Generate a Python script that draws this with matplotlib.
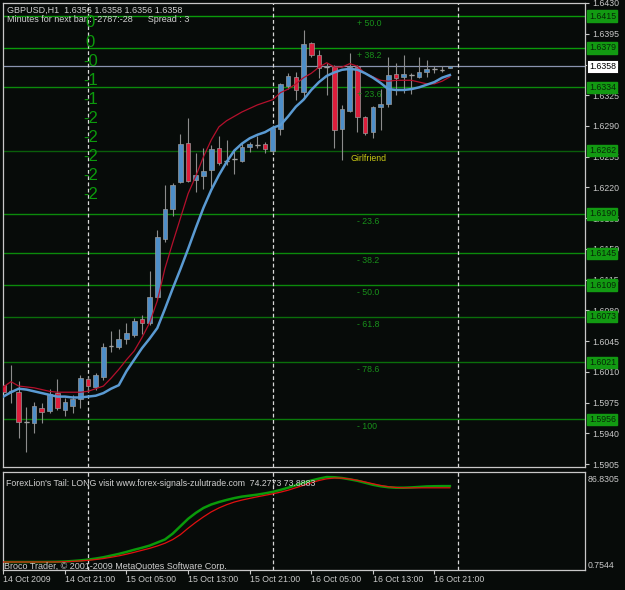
import numpy as np
import matplotlib.pyplot as plt
import matplotlib.transforms as mtransforms

# GBPUSD H1 bars, 14 Oct 13:00 .. 16 Oct 23:00
opens = [1.5995, 1.5988, 1.5987, 1.5953, 1.5952, 1.5969, 1.5966, 1.5986, 1.5967, 1.5971,
         1.5979, 1.6002, 1.5993, 1.6004, 1.6040, 1.6039, 1.6048, 1.6052, 1.6070, 1.6066,
         1.6095, 1.6161, 1.6196, 1.6226, 1.6271, 1.6229, 1.6233, 1.6240, 1.6265, 1.6250,
         1.6252, 1.6250, 1.6266, 1.6268, 1.6270, 1.6262, 1.6287, 1.6336, 1.6346, 1.6329,
         1.6384, 1.6371, 1.6357, 1.6357, 1.6287, 1.6307, 1.6357, 1.6300, 1.6283, 1.6312,
         1.6315, 1.6349, 1.6346, 1.6348, 1.6346, 1.6351, 1.6355, 1.6354, 1.6356]
highs = [1.6016, 1.6018, 1.6000, 1.5970, 1.5976, 1.5975, 1.5991, 1.6002, 1.5980, 1.5984,
         1.6007, 1.6004, 1.6009, 1.6043, 1.6057, 1.6059, 1.6066, 1.6072, 1.6075, 1.6125,
         1.6172, 1.6223, 1.6225, 1.6281, 1.6299, 1.6259, 1.6265, 1.6268, 1.6279, 1.6274,
         1.6264, 1.6271, 1.6272, 1.6279, 1.6272, 1.6291, 1.6339, 1.6350, 1.6351, 1.6399,
         1.6386, 1.6377, 1.6362, 1.6359, 1.6314, 1.6373, 1.6359, 1.6301, 1.6313, 1.6332,
         1.6369, 1.6362, 1.6371, 1.6350, 1.6369, 1.6365, 1.6358, 1.6358, 1.6358]
lows = [1.5955, 1.5975, 1.5935, 1.5919, 1.5941, 1.5952, 1.5963, 1.5967, 1.5960, 1.5963,
        1.5969, 1.5987, 1.5990, 1.6001, 1.6033, 1.6036, 1.6042, 1.6050, 1.6053, 1.6063,
        1.6092, 1.6158, 1.6188, 1.6225, 1.6226, 1.6215, 1.6218, 1.6221, 1.6246, 1.6246,
        1.6235, 1.6249, 1.6260, 1.6265, 1.6259, 1.6259, 1.6280, 1.6332, 1.6320, 1.6321,
        1.6369, 1.6345, 1.6325, 1.6265, 1.6251, 1.6306, 1.6283, 1.6280, 1.6276, 1.6285,
        1.6312, 1.6325, 1.6328, 1.6326, 1.6345, 1.6346, 1.6350, 1.6351, 1.6356]
closes = [1.5987, 1.5988, 1.5953, 1.5953, 1.5971, 1.5964, 1.5985, 1.5969, 1.5976, 1.5979,
          1.6003, 1.5994, 1.6007, 1.6039, 1.6040, 1.6048, 1.6054, 1.6068, 1.6066, 1.6095,
          1.6164, 1.6196, 1.6223, 1.6270, 1.6227, 1.6234, 1.6239, 1.6264, 1.6248, 1.6250,
          1.6252, 1.6266, 1.6270, 1.6268, 1.6264, 1.6288, 1.6338, 1.6347, 1.6331, 1.6383,
          1.6371, 1.6356, 1.6357, 1.6286, 1.6309, 1.6357, 1.6300, 1.6282, 1.6312, 1.6315,
          1.6348, 1.6345, 1.6349, 1.6348, 1.6351, 1.6355, 1.6355, 1.6354, 1.6358]

ma_fast = [1.5993, 1.5999, 1.5994, 1.5993, 1.5992, 1.5990, 1.5988, 1.5987, 1.5987, 1.5987,
           1.5987, 1.5988, 1.5991, 1.5994, 1.6003, 1.6013, 1.6024, 1.6034, 1.6049, 1.6066,
           1.6091, 1.6128, 1.6157, 1.6185, 1.6213, 1.6233, 1.6255, 1.6274, 1.6289, 1.6296,
           1.6301, 1.6306, 1.6310, 1.6314, 1.6317, 1.6320, 1.6328, 1.6332, 1.6338, 1.6345,
           1.6350, 1.6357, 1.6362, 1.6357, 1.6357, 1.6361, 1.6358, 1.6350, 1.6346, 1.6342,
           1.6341, 1.6342, 1.6342, 1.6342, 1.6340, 1.6338, 1.6338, 1.6341, 1.6346]
ma_slow = [1.5982, 1.5987, 1.5991, 1.5990, 1.5988, 1.5986, 1.5984, 1.5982, 1.5982, 1.5981,
           1.5981, 1.5982, 1.5983, 1.5986, 1.5991, 1.5995, 1.6011, 1.6024, 1.6037, 1.6048,
           1.6060, 1.6082, 1.6105, 1.6127, 1.6150, 1.6174, 1.6197, 1.6217, 1.6234, 1.6249,
           1.6262, 1.6270, 1.6276, 1.6280, 1.6283, 1.6288, 1.6291, 1.6301, 1.6312, 1.6320,
           1.6331, 1.6340, 1.6347, 1.6351, 1.6354, 1.6355, 1.6354, 1.6350, 1.6345, 1.6339,
           1.6332, 1.6331, 1.6331, 1.6332, 1.6334, 1.6337, 1.6340, 1.6345, 1.6348]

tail_green = [0.8, 0.8, 0.8, 0.8, 0.8, 0.8, 0.9, 1.0, 1.3, 1.8,
              2.4, 3.2, 4.3, 5.6, 7.3, 9.0, 11.0, 13.2, 15.2, 17.4,
              20.5, 23.6, 29.5, 37.0, 44.5, 50.5, 55.5, 59.0, 61.5, 63.6,
              65.5, 67.0, 68.0, 69.0, 70.3, 71.8, 73.8, 76.0, 78.5, 81.0,
              83.3, 85.2, 86.8, 86.6, 85.8, 84.5, 83.0, 81.0, 79.0, 77.5,
              76.5, 76.0, 76.0, 76.3, 76.8, 77.3, 77.5, 77.6, 77.6]
tail_red = [0.8, 0.8, 0.8, 0.8, 0.8, 0.8, 0.8, 0.9, 1.1, 1.4,
            1.9, 2.5, 3.3, 4.3, 5.6, 7.0, 8.7, 10.6, 12.6, 14.6,
            17.0, 19.8, 23.5, 28.5, 35.0, 41.0, 46.5, 51.5, 55.5, 58.8,
            61.5, 63.5, 65.2, 66.8, 68.3, 69.8, 71.5, 73.5, 76.0, 78.5,
            81.0, 83.3, 85.0, 85.8, 85.7, 84.8, 83.5, 81.8, 80.0, 78.3,
            77.0, 76.2, 75.9, 75.9, 75.9, 75.9, 75.9, 75.9, 75.9]

fib_levels = [1.6415, 1.6379, 1.6334, 1.6262, 1.6190, 1.6145, 1.6109, 1.6073, 1.6021, 1.5956]
fib_names = ["+ 50.0", "+ 38.2", "+ 23.6", "Girlfriend", "- 23.6", "- 38.2",
             "- 50.0", "- 61.8", "- 78.6", "- 100"]
fib_colors = ["#0a9a0a", "#0a9a0a", "#0b8a0b", "#0a5e0a", "#0b8a0b", "#0b8a0b",
              "#0b8a0b", "#0a6e0a", "#0a6e0a", "#0a7a0a"]
price_ticks = [1.6430, 1.6395, 1.6360, 1.6325, 1.6290, 1.6255, 1.6220, 1.6185, 1.6150,
               1.6115, 1.6080, 1.6045, 1.6010, 1.5975, 1.5940, 1.5905]
last_price = 1.6358
offsets = ["0", "0", "-0", "-1", "-1", "-2", "-2", "-2", "-2", "-2"]
time_ticks = [0, 8, 16, 24, 32, 40, 48, 56]
time_labels = ["14 Oct 2009", "14 Oct 21:00", "15 Oct 05:00", "15 Oct 13:00",
               "15 Oct 21:00", "16 Oct 05:00", "16 Oct 13:00", "16 Oct 21:00"]
day_breaks = [11, 35, 59]

BG = "#070b09"
TXT = "#d0d0d0"
FONT = "Liberation Sans"

fig = plt.figure(figsize=(6.25, 5.9), dpi=100, facecolor=BG)
ax = fig.add_axes([3 / 625, 123 / 590, 582 / 625, 464 / 590], facecolor=BG)
ax2 = fig.add_axes([3 / 625, 20 / 590, 582 / 625, 98 / 590], facecolor=BG)

x = np.arange(len(closes))
xlim = (-0.04, 75.55)
px = 0.0035 / 30.75

# main price panel
for lvl, c in zip(fib_levels, fib_colors):
    ax.axhline(lvl, color=c, lw=1.0, zorder=1)
ax.axhline(last_price, color="#8a94b0", lw=0.9, zorder=1)
for d in day_breaks:
    ax.axvline(d, color="#d8d8d8", lw=0.9, ls=(0, (3, 2)), zorder=1)

o = np.array(opens); c = np.array(closes)
ax.vlines(x, lows, highs, color="#8c8c8c", lw=0.8, zorder=2)
body_col = np.where(c > o, "#4e8ec8", np.where(c < o, "#dc1e3c", "#9a9a9a"))
ax.bar(x, c - o, bottom=o, width=0.6, color=body_col, edgecolor="#9a9a9a",
       linewidth=0.5, zorder=3)
flat = c == o
ax.hlines(c[flat], x[flat] - 0.3, x[flat] + 0.3, color="#a0a0a0", lw=1.0, zorder=3)

ax.plot(x, ma_fast, color="#b4102c", lw=0.9, zorder=4)
ax.plot(x, ma_slow, color="#5a9ad2", lw=1.8, zorder=4)

for lvl, name in zip(fib_levels, fib_names):
    col = "#c8c814" if name == "Girlfriend" else "#18901a"
    xt = 45.1 if name == "Girlfriend" else 45.9
    ax.annotate(name, (xt, lvl), xytext=(0, -2.2), textcoords="offset points",
                va="top", ha="left", fontsize=6.3, color=col, family=FONT, zorder=5)

for i, s in enumerate(offsets):
    ax.text(11.3, 1.6430 - (20 + 19.1 * i) * px, s, ha="center", va="center",
            fontsize=12, color="#0c9a0c", family=FONT, zorder=5)

ax.set_xlim(*xlim)
ax.set_ylim(1.6430 - 464 * px, 1.6430)
ax.yaxis.tick_right()
ax.set_yticks(price_ticks)
ax.set_yticklabels([f"{t:.4f}" for t in price_ticks])
ax.tick_params(axis="y", colors="#c8c8c8", labelsize=6.3, length=3, pad=2.5)
ax.tick_params(axis="x", bottom=False, labelbottom=False)
for lab in ax.get_yticklabels():
    lab.set_family(FONT)
for s in ax.spines.values():
    s.set_color("#c8c8c8")
    s.set_linewidth(0.9)

tr = mtransforms.blended_transform_factory(ax.transAxes, ax.transData)
for lvl, col in zip(fib_levels, fib_colors):
    ax.text(1.0065, lvl, f"{lvl:.4f}", transform=tr, ha="left", va="center",
            fontsize=6.3, color="#062806", family=FONT, clip_on=False, zorder=6,
            bbox=dict(boxstyle="square,pad=0.15", fc="#129a12", ec="#129a12"))
ax.text(1.0065, last_price, f"{last_price:.4f}", transform=tr, ha="left", va="center",
        fontsize=6.3, color="#000000", family=FONT, clip_on=False, zorder=6,
        bbox=dict(boxstyle="square,pad=0.2", fc="#ffffff", ec="#000000", lw=0.6))

fig.text(7 / 625, 1 - 10 / 590, "GBPUSD,H1  1.6356 1.6358 1.6356 1.6358",
         fontsize=6.5, color=TXT, family=FONT, va="center")
fig.text(7 / 625, 1 - 20 / 590, "Minutes for next bar : -2787:-28      Spread : 3",
         fontsize=6.5, color=TXT, family=FONT, va="center")

# lower oscillator panel
for d in day_breaks:
    ax2.axvline(d, color="#d8d8d8", lw=0.9, ls=(0, (3, 2)), zorder=1)
ax2.plot(x, tail_green, color="#0a9a0a", lw=1.8, zorder=2)
ax2.plot(x, tail_red, color="#e01010", lw=0.9, zorder=3)
ax2.set_xlim(*xlim)
ax2.set_ylim(-7.3, 91.9)
ax2.set_yticks([])
ax2.set_xticks(time_ticks)
ax2.set_xticklabels(time_labels, ha="left", family=FONT)
ax2.tick_params(axis="x", colors="#c8c8c8", labelsize=6.3, length=3, pad=0.8)
for s in ax2.spines.values():
    s.set_color("#c8c8c8")
    s.set_linewidth(0.9)
ax2.text(0.005, 0.88, "ForexLion's Tail: LONG visit www.forex-signals-zulutrade.com  74.2773 73.8883",
         transform=ax2.transAxes, fontsize=6.3, color=TXT, family=FONT, va="center")
ax2.text(0.002, 0.04, "Broco Trader, © 2001-2009 MetaQuotes Software Corp.",
         transform=ax2.transAxes, fontsize=6.5, color=TXT, family=FONT, va="center")
fig.text(588 / 625, 1 - 480 / 590, "86.8305", fontsize=6.3, color="#c8c8c8",
         family=FONT, va="center")
fig.text(588 / 625, 1 - 565 / 590, "0.7544", fontsize=6.3, color="#c8c8c8",
         family=FONT, va="center")

fig.savefig("out.png", dpi=100, facecolor=BG)
